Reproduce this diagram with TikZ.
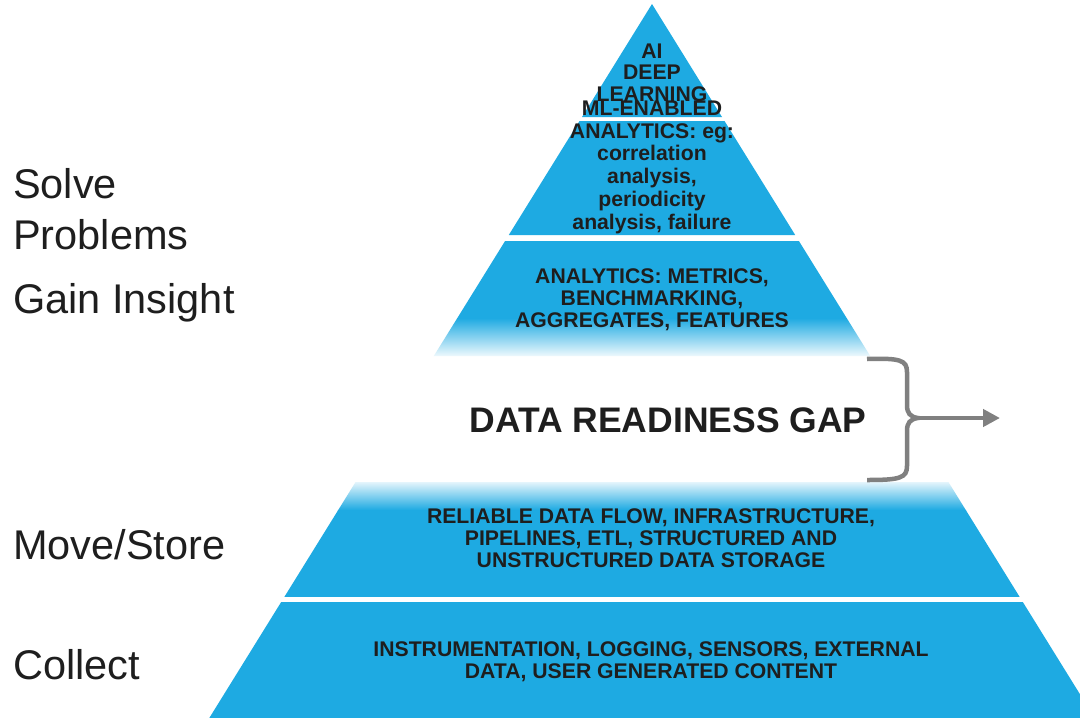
\documentclass[tikz,border=0pt]{standalone}
\usepackage{fontspec}
\setmainfont{Liberation Sans}
\usetikzlibrary{arrows.meta}
\definecolor{pyrblue}{RGB}{30,170,226}
\definecolor{bracegray}{RGB}{128,128,128}
\definecolor{inktext}{RGB}{30,30,30}
\begin{document}
\begin{tikzpicture}[x=1pt,y=-1pt,
  layertext/.style={align=center,anchor=base,text=inktext,inner sep=0pt,
    font=\bfseries\fontsize{21.2}{22}\selectfont},
  sidelabel/.style={align=left,anchor=base west,text=inktext,inner sep=0pt,
    font=\fontsize{41.5}{51}\selectfont}]
\clip (0,0) rectangle (1080,718);
\fill[white] (0,0) rectangle (1080,718);
\fill[pyrblue] (652,4) -- (722,117) -- (582,117) -- cycle;
\fill[pyrblue] (579.5,121) -- (724.5,121) -- (795.2,235) -- (508.8,235) -- cycle;
\begin{scope}
\clip (505.1,241) -- (798.9,241) -- (870.2,356) -- (433.8,356) -- cycle;
\fill[pyrblue] (430,241) rectangle (875,318);
\shade[top color=pyrblue, bottom color=pyrblue!8] (430,318) rectangle (875,356);
\end{scope}
\begin{scope}
\clip (355.6,482) -- (948.4,482) -- (1019.7,597) -- (284.3,597) -- cycle;
\shade[top color=pyrblue!12, bottom color=pyrblue] (280,482) rectangle (1025,510);
\fill[pyrblue] (280,510) rectangle (1025,597);
\end{scope}
\fill[pyrblue] (281.2,602) -- (1022.8,602) -- (1094.7,718) -- (209.3,718) -- cycle;
\node[layertext, font=\bfseries\fontsize{21.2}{21.5}\selectfont] (ai) at (652,101) {AI\\DEEP\\LEARNING};
\node[layertext, font=\bfseries\fontsize{21.2}{22.7}\selectfont] (mlan) at (652,229) {ML-ENABLED\\ANALYTICS: eg:\\correlation\\analysis,\\periodicity\\analysis, failure};
\node[layertext] (metrics) at (652,327) {ANALYTICS: METRICS,\\BENCHMARKING,\\AGGREGATES, FEATURES};
\node[layertext, font=\bfseries\fontsize{35.5}{40}\selectfont] (gap) at (668,432) {DATA READINESS GAP};
\node[layertext] (flow) at (651,567) {RELIABLE DATA FLOW, INFRASTRUCTURE,\\PIPELINES, ETL, STRUCTURED AND\\UNSTRUCTURED DATA STORAGE};
\node[layertext] (instr) at (651,678) {INSTRUMENTATION, LOGGING, SENSORS, EXTERNAL\\DATA, USER GENERATED CONTENT};
\node[sidelabel] (solve) at (13,249) {Solve\\Problems};
\node[sidelabel] (insight) at (13,313) {Gain Insight};
\node[sidelabel] (move) at (13,559) {Move/Store};
\node[sidelabel] (collect) at (13,679) {Collect};
\coordinate (cusp) at (918,418);
\coordinate (gapout) at (1000,418);
\draw[bracegray, line width=4.5pt] (867,359) .. controls (900,358) and (907,360) .. (907,372) -- (907,405) .. controls (907,413) and (910,417) .. (cusp) .. controls (910,419) and (907,423) .. (907,431) -- (907,466) .. controls (907,478) and (900,480) .. (867,480);
\draw[bracegray, line width=4.5pt, -{Triangle[length=17pt,width=17pt]}] (cusp) -- (gapout);
\end{tikzpicture}
\end{document}
